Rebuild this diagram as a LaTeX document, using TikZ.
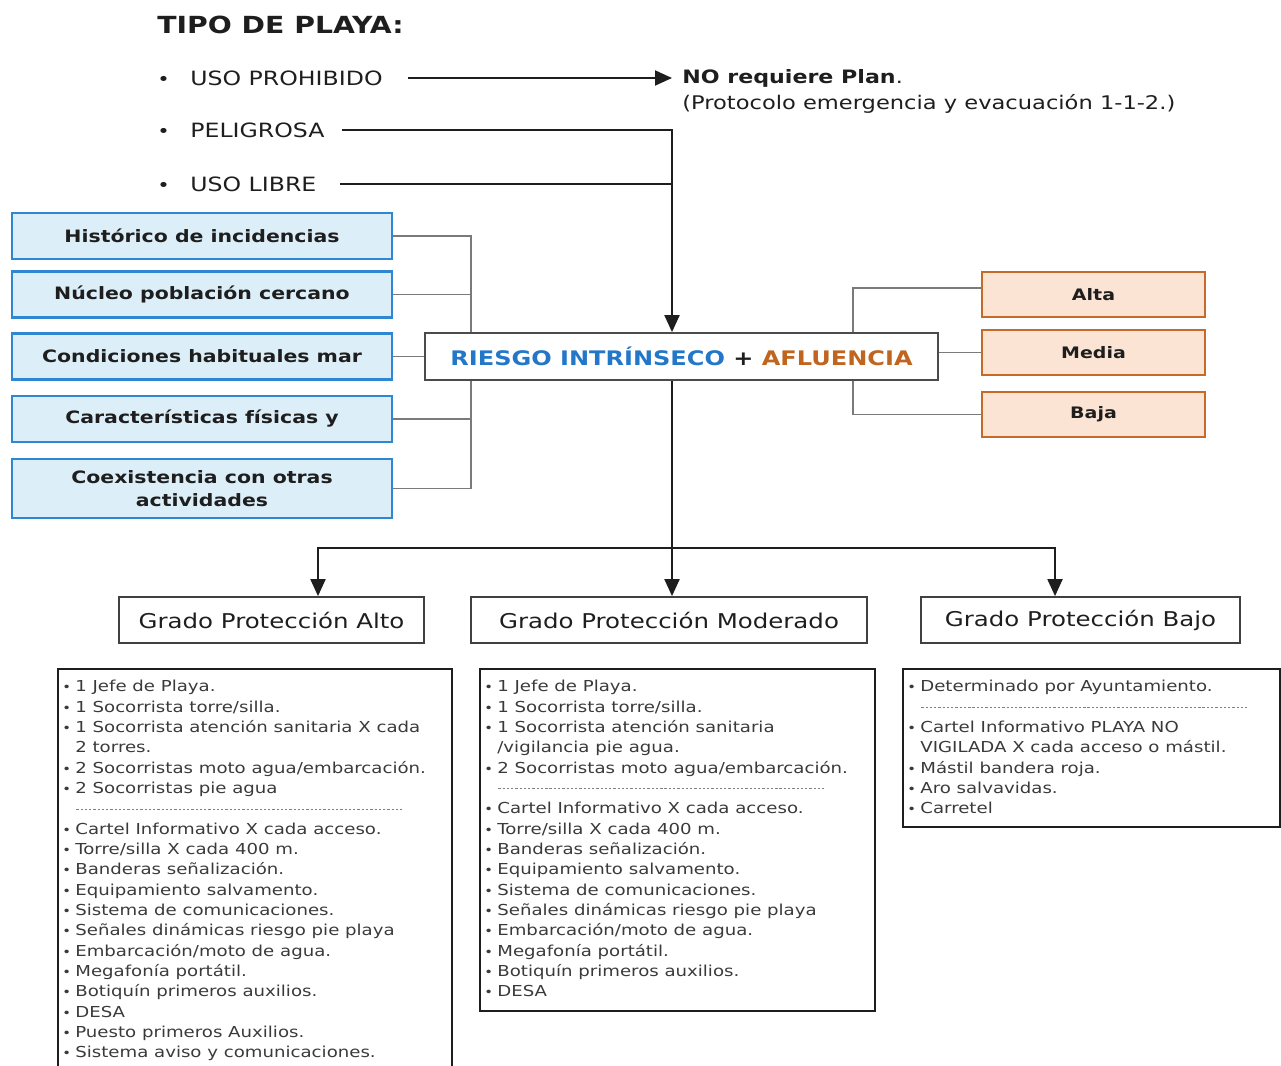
\documentclass[tikz,border=0pt]{standalone}
\usepackage{fontspec}
\setmainfont{DejaVu Sans}[FakeStretch=1.2]
\usepackage{tikz}
\usetikzlibrary{arrows.meta, positioning, calc}

\definecolor{riskfill}{HTML}{DCEEF8}
\definecolor{riskdraw}{HTML}{2F86D2}
\definecolor{crowdfill}{HTML}{FCE4D4}
\definecolor{crowddraw}{HTML}{C46A2A}
\definecolor{riskblue}{HTML}{2277C8}
\definecolor{crowdorange}{HTML}{C0651F}
\definecolor{linkgray}{HTML}{7A7A7A}
\definecolor{listgray}{HTML}{3A3A3A}
\definecolor{inkdark}{HTML}{1E1E1E}

\newcommand{\bul}{\makebox[0.66cm][l]{\normalsize\textbullet}}
\newcommand{\itm}{\makebox[0.26cm][l]{\scriptsize\textbullet}}
\newcommand{\cont}{\hspace*{0.26cm}}
\newcommand{\dashsep}{\hspace*{0.26cm}{\color{gray}\xleaders\hbox to 2.4pt{\hss\rule[2.6pt]{1.3pt}{0.35pt}\hss}\hskip 6.56cm}}

\begin{document}
\begin{tikzpicture}[x=0.2mm, y=-0.2mm,
    riskbox/.style={draw=riskdraw, fill=riskfill, line width=1.6pt, minimum width=7.6cm, minimum height=0.92cm, font=\bfseries\fontsize{9.7}{13}\selectfont, text=inkdark, align=center},
    crowdbox/.style={draw=crowddraw, fill=crowdfill, line width=1.1pt, minimum width=4.46cm, minimum height=0.9cm, font=\bfseries\fontsize{9}{11}\selectfont, text=inkdark},
    gradebox/.style={draw=inkdark!85, line width=1pt, minimum height=0.92cm, font=\fontsize{11.6}{14}\selectfont, text=inkdark},
    listbox/.style={draw=inkdark, line width=1.2pt, anchor=north west},
    listtext/.style={anchor=north west, inner sep=0pt, align=left, font=\fontsize{8.6}{11.57}\selectfont, text=listgray},
    toptext/.style={anchor=west, inner sep=0pt, font=\fontsize{11.2}{13.5}\selectfont, text=inkdark},
    grayline/.style={draw=linkgray, line width=0.9pt},
    blackline/.style={draw=inkdark, line width=1.1pt},
    blackarrow/.style={blackline, -{Triangle[length=3.4mm, width=3mm]}}
]
\useasboundingbox (0,0) rectangle (1281,1065);
\clip (0,0) rectangle (1281,1065);

% Tipo de playa
\node[toptext, font=\bfseries\fontsize{13.4}{16}\selectfont] (titulo) at (157,25) {TIPO DE PLAYA:};
\node[toptext] (prohib) at (157,78) {\bul USO PROHIBIDO};
\node[toptext, font=\bfseries\fontsize{10.5}{13}\selectfont] (noplan) at (682,78) {NO requiere Plan{\mdseries .}};
\node[toptext, font=\fontsize{10.7}{13}\selectfont] (protocolo) at (682,104) {(Protocolo emergencia y evacuación 1-1-2.)};
\node[toptext] (pelig) at (157,130) {\bul PELIGROSA};
\node[toptext] (libre) at (157,184) {\bul USO LIBRE};

% Riesgo intrinseco + afluencia
\node[draw=inkdark!80, line width=1pt, fill=white, minimum width=10.26cm, minimum height=0.94cm, font=\bfseries\fontsize{11.4}{14}\selectfont] (riesgo) at (681.5,356.5) {\textcolor{riskblue}{RIESGO INTRÍNSECO} \textcolor{inkdark}{+} \textcolor{crowdorange}{AFLUENCIA}};

% Factores de riesgo
\node[riskbox] (hist) at (202,236) {Histórico de incidencias};
\node[riskbox] (nucleo) at (202,294.5) {Núcleo población cercano};
\node[riskbox] (cond) at (202,356.5) {Condiciones habituales mar};
\node[riskbox] (caract) at (202,419) {Características físicas y};
\node[riskbox, minimum height=1.18cm] (coex) at (202,488.5) {Coexistencia con otras\\actividades};

% Afluencia
\node[crowdbox] (alta) at (1093.5,294.5) {Alta};
\node[crowdbox] (media) at (1093.5,352.5) {Media};
\node[crowdbox] (baja) at (1093.5,414.5) {Baja};

% Grados de proteccion
\node[gradebox, minimum width=6.1cm] (alto) at (271.5,620) {Grado Protección Alto};
\node[gradebox, minimum width=7.92cm] (moderado) at (669,620) {Grado Protección Moderado};
\node[gradebox, minimum width=6.38cm] (bajo) at (1080.5,620) {Grado Protección Bajo};

% Bus points
\coordinate (trunk) at (672,131);
\coordinate (lbus) at (471,230);
\coordinate (rbus) at (853,288);
\coordinate (busL) at (318,548);
\coordinate (busR) at (1055,548);

% Connectors
\draw[blackarrow, shorten <=0.5cm, shorten >=0.2cm] (prohib.east) -- (noplan.west);
\draw[blackarrow, shorten <=0.34cm] (pelig.east) -| (trunk |- riesgo.north);
\draw[blackline, shorten <=0.46cm] (libre.east) -- (libre.east -| trunk);

\draw[grayline] (hist.east) -| (lbus |- riesgo.north);
\draw[grayline] (nucleo.east) -- (nucleo.east -| lbus);
\draw[grayline] (cond.east) -- (riesgo.west);
\draw[grayline] (caract.east) -- (caract.east -| lbus);
\draw[grayline] (coex.east) -| (lbus |- riesgo.south);

\draw[grayline] ([yshift=0.13cm]alta.west) -| (rbus |- riesgo.north);
\draw[grayline] (media.west) -- (media.west -| riesgo.east);
\draw[grayline] (baja.west) -| (rbus |- riesgo.south);

\draw[blackarrow] (riesgo.south -| trunk) -- (moderado.north -| trunk);
\draw[blackarrow] (busL -| trunk) -| (alto.north -| busL);
\draw[blackarrow] (busR -| trunk) -| (bajo.north -| busR);

% Medios por grado
\node[listbox, minimum width=7.88cm, minimum height=8.4cm] (altolist) at (57,668) {};
\node[listtext] (altotext) at ([xshift=0.1cm, yshift=-0.24cm]altolist.north west) {%
\itm 1 Jefe de Playa.\\
\itm 1 Socorrista torre/silla.\\
\itm 1 Socorrista atención sanitaria X cada\\
\cont 2 torres.\\
\itm 2 Socorristas moto agua/embarcación.\\
\itm 2 Socorristas pie agua\\
\dashsep\\
\itm Cartel Informativo X cada acceso.\\
\itm Torre/silla X cada 400 m.\\
\itm Banderas señalización.\\
\itm Equipamiento salvamento.\\
\itm Sistema de comunicaciones.\\
\itm Señales dinámicas riesgo pie playa\\
\itm Embarcación/moto de agua.\\
\itm Megafonía portátil.\\
\itm Botiquín primeros auxilios.\\
\itm DESA\\
\itm Puesto primeros Auxilios.\\
\itm Sistema aviso y comunicaciones.};

\node[listbox, minimum width=7.9cm, minimum height=6.84cm] (modlist) at (479,668) {};
\node[listtext] (modtext) at ([xshift=0.1cm, yshift=-0.24cm]modlist.north west) {%
\itm 1 Jefe de Playa.\\
\itm 1 Socorrista torre/silla.\\
\itm 1 Socorrista atención sanitaria\\
\cont /vigilancia pie agua.\\
\itm 2 Socorristas moto agua/embarcación.\\
\dashsep\\
\itm Cartel Informativo X cada acceso.\\
\itm Torre/silla X cada 400 m.\\
\itm Banderas señalización.\\
\itm Equipamiento salvamento.\\
\itm Sistema de comunicaciones.\\
\itm Señales dinámicas riesgo pie playa\\
\itm Embarcación/moto de agua.\\
\itm Megafonía portátil.\\
\itm Botiquín primeros auxilios.\\
\itm DESA};

\node[listbox, minimum width=7.54cm, minimum height=3.16cm] (bajolist) at (902,668) {};
\node[listtext] (bajotext) at ([xshift=0.1cm, yshift=-0.24cm]bajolist.north west) {%
\itm Determinado por Ayuntamiento.\\
\dashsep\\
\itm Cartel Informativo PLAYA NO\\
\cont VIGILADA X cada acceso o mástil.\\
\itm Mástil bandera roja.\\
\itm Aro salvavidas.\\
\itm Carretel};
\end{tikzpicture}
\end{document}
